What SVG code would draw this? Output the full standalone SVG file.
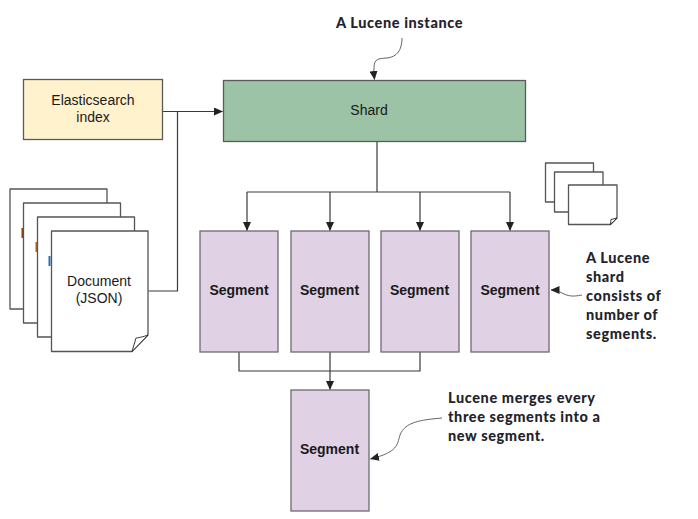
<svg xmlns="http://www.w3.org/2000/svg" width="698" height="519" viewBox="0 0 698 519">
<defs>
<style>
.box{stroke:#5a5a5a;stroke-width:1.3}
.seg{fill:#e0d1e5;stroke:#6e6a70;stroke-width:1.3}
.page{fill:#fff;stroke:#555;stroke-width:1.3;stroke-linejoin:round}
.fold{fill:#fff;stroke:#222;stroke-width:.9}
.lbl{font-family:"Liberation Sans",Arial,sans-serif;font-size:14px;fill:#1a1a1a;text-anchor:middle}
.bold{font-weight:700}
.note{font-family:Lato,"Open Sans",sans-serif;font-weight:900;font-size:14.5px;letter-spacing:.6px;fill:#23232b}
.wire{fill:none;stroke:#3a3a3a;stroke-width:1.2}
.curve{fill:none;stroke:#555;stroke-width:.9}
</style>
<marker id="arrow" markerUnits="userSpaceOnUse" markerWidth="9" markerHeight="8" refX="8.500" refY="4" orient="auto"><path d="M0 0L9 4L0 8Z" fill="#222"/></marker>
</defs>
<g id="connectors">
<path class="wire" d="M148.500 291H177.500V111.500"/>
<path class="wire" marker-end="url(#arrow)" d="M163 111.500H222.500"/>
<path class="wire" d="M377 142V192"/>
<path class="wire" d="M247 192H510"/>
<path class="wire" marker-end="url(#arrow)" d="M247 192V230.500"/>
<path class="wire" marker-end="url(#arrow)" d="M330 192V230.500"/>
<path class="wire" marker-end="url(#arrow)" d="M420 192V230.500"/>
<path class="wire" marker-end="url(#arrow)" d="M510 192V230.500"/>
<path class="wire" d="M239 352V371H420V352"/>
<path class="wire" marker-end="url(#arrow)" d="M330 352V389.500"/>
<path class="curve" marker-end="url(#arrow)" d="M402 38C402 50 397 57 387 58C378 58.500 374 59 374 68C373.500 72 374 75 374.500 79.500"/>
<path class="curve" marker-end="url(#arrow)" d="M582 295C572 297 568 296 562 293C558 291 556 290 551 290"/>
<path class="curve" marker-end="url(#arrow)" d="M442 418C420 420 405 422 400 435C397 445 398 452 370.500 459"/>
</g>
<g id="elasticsearch-index">
<rect class="box" x="23.500" y="79.500" width="139" height="60" fill="#fff2cc"/>
<text class="lbl" x="93" y="105">Elasticsearch</text>
<text class="lbl" x="93" y="122">index</text>
</g>
<g id="shard">
<rect class="box" x="223.500" y="80.500" width="302" height="61" fill="#9cc3a5"/>
<text class="lbl" x="369" y="115">Shard</text>
</g>
<g id="documents">
<rect class="page" x="10" y="189" width="97" height="120"/>
<rect x="21.500" y="228" width="2" height="10" fill="#8a3b12"/>
<rect class="page" x="23.500" y="203" width="97" height="120"/>
<rect x="35.500" y="242" width="2" height="10" fill="#b5651d"/>
<rect class="page" x="37.500" y="217" width="97" height="120"/>
<rect x="48.500" y="256" width="2" height="10" fill="#2a6fb0"/>
<path class="page" d="M51.500 231H148V335L132 351.500H51.500Z"/>
<path class="fold" d="M148 335C143 337 137 338 136 338L132 351.500Z"/>
<text class="lbl" x="99" y="286">Document</text>
<text class="lbl" x="99" y="303">(JSON)</text>
</g>
<g id="small-pages">
<rect class="page" x="545.500" y="163" width="48" height="39"/>
<rect class="page" x="554.500" y="172" width="48.500" height="40"/>
<path class="page" d="M568.500 185H617V218L610.500 224.500H568.500Z"/>
<path class="fold" d="M617 218L611 219.500L610.500 224.500Z"/>
</g>
<g id="segment-1"><rect class="seg" x="200" y="231" width="78" height="121"/><text class="lbl bold" x="239" y="295">Segment</text></g>
<g id="segment-2"><rect class="seg" x="291" y="231" width="78" height="121"/><text class="lbl bold" x="329.500" y="295">Segment</text></g>
<g id="segment-3"><rect class="seg" x="381" y="231" width="78" height="121"/><text class="lbl bold" x="419.500" y="295">Segment</text></g>
<g id="segment-4"><rect class="seg" x="471" y="231" width="78" height="121"/><text class="lbl bold" x="510" y="295">Segment</text></g>
<g id="segment-merged"><rect class="seg" x="291" y="390" width="78" height="121"/><text class="lbl bold" x="329.500" y="454">Segment</text></g>
<g id="notes">
<text class="note" x="336" y="28">A Lucene instance</text>
<text class="note" x="586" y="263">A Lucene</text>
<text class="note" x="586" y="282">shard</text>
<text class="note" x="586" y="301">consists of</text>
<text class="note" x="586" y="320">number of</text>
<text class="note" x="586" y="339">segments.</text>
<text class="note" x="448" y="403">Lucene merges every</text>
<text class="note" x="448" y="422">three segments into a</text>
<text class="note" x="448" y="441">new segment.</text>
</g>
</svg>
